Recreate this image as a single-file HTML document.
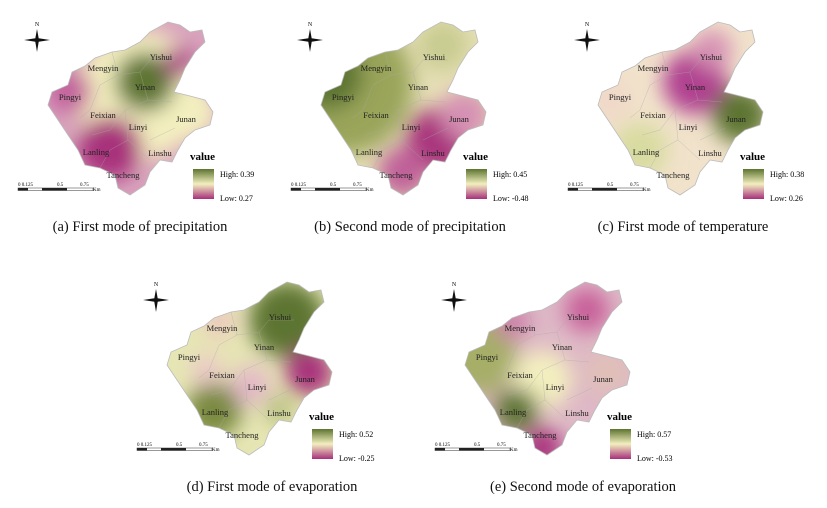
<!DOCTYPE html><html><head><meta charset="utf-8"><style>
body{margin:0;background:#fff;width:827px;height:508px;overflow:hidden}
svg{display:block}
text{font-family:"Liberation Serif",serif}
</style></head><body>
<svg id="s" width="827" height="508" xmlns="http://www.w3.org/2000/svg"></svg>
<script>
const outline="M150,32 L168,22 L180,25 L190,32 L202,30 L205,42 L195,52 L185,68 L180,80 L174,92 L190,96 L205,100 L213,112 L210,125 L195,130 L185,138 L178,150 L172,162 L160,160 L150,172 L145,185 L130,195 L118,188 L115,175 L100,168 L85,165 L78,150 L68,135 L58,120 L48,105 L52,92 L68,85 L72,72 L85,66 L95,58 L112,52 L125,50 L140,42 Z";
const borders="M112,52 L118,75 L100,85 L90,110 L80,118 M118,75 L140,72 L150,60 L175,60 M140,72 L148,100 L172,102 M148,100 L125,110 L110,130 L92,135 M125,110 L128,140 L150,160 M150,140 L175,128 M128,140 L110,150 L100,168";
const labels=[["Yishui",161,57],["Mengyin",103,68],["Yinan",145,87],["Pingyi",70,97],["Feixian",103,115],["Linyi",138,127],["Junan",186,119],["Lanling",96,152],["Linshu",160,153],["Tancheng",123,175]];
const G="#5d7430",G2="#8a9a50",Y="#f3efbf",P="#d690b4",M="#a8307c";
const panels=[
 {x:0,y:0,base:"#d9a3bd",hi:"0.39",lo:"0.27",cap:"(a) First mode of precipitation",cx:140,blobs:[[140,95,65,Y],[190,112,28,Y],[145,82,30,G],[110,148,32,M],[70,92,22,"#c2619c"],[180,62,16,"#b04a8c"]]},
 {x:273,y:0,base:"#e6dfb6",hi:"0.45",lo:"-0.48",cap:"(b) Second mode of precipitation",cx:410,blobs:[[70,85,70,"#9aa55a"],[55,75,35,G],[165,140,32,M],[130,172,25,"#c0609a"],[192,115,25,P],[170,45,25,"#c8cc90"]]},
 {x:550,y:0,base:"#f1e2cb",hi:"0.38",lo:"0.26",cap:"(c) First mode of temperature",cx:683,blobs:[[145,82,32,"#b04090"],[162,50,20,P],[190,115,28,G],[90,150,28,"#d8dca0"],[60,100,22,"#f0d8c8"]]},
 {x:119,y:260,base:"#e6e6b4",hi:"0.52",lo:"-0.25",cap:"(d) First mode of evaporation",cx:272,blobs:[[168,60,38,G],[95,150,28,"#7a8a40"],[190,112,24,M],[132,125,20,"#e4b8c8"],[88,110,16,"#ecc8c8"],[100,62,16,"#ecc8c0"],[160,150,15,"#b8c080"]]},
 {x:417,y:260,base:"#deb8c6",hi:"0.57",lo:"-0.53",cap:"(e) Second mode of evaporation",cx:583,blobs:[[60,95,40,"#a6ae68"],[125,120,30,Y],[100,150,22,G],[125,188,20,M],[170,50,22,"#c8609a"],[95,62,18,"#cc80a8"],[190,112,22,"#e0c0b8"]]}
];
let h='<defs><clipPath id="cp"><path d="'+outline+'"/></clipPath><filter id="bl"><feGaussianBlur stdDeviation="10"/></filter>'+
'<linearGradient id="lg" x1="0" y1="0" x2="0" y2="1"><stop offset="0" stop-color="'+G+'"/><stop offset="0.5" stop-color="'+Y+'"/><stop offset="1" stop-color="'+M+'"/></linearGradient></defs>';
panels.forEach((p,i)=>{
 h+='<g transform="translate('+p.x+','+p.y+')">';
 h+='<g clip-path="url(#cp)"><rect x="0" y="0" width="260" height="220" fill="'+p.base+'"/><g filter="url(#bl)">';
 p.blobs.forEach(b=>{h+='<circle cx="'+b[0]+'" cy="'+b[1]+'" r="'+b[2]+'" fill="'+b[3]+'"/>';});
 h+='</g></g><path d="'+outline+'" fill="none" stroke="#bbb" stroke-width="0.8"/><path d="'+borders+'" fill="none" stroke="#aaa" stroke-width="0.5" opacity="0.6"/>';
 labels.forEach(l=>{h+='<text x="'+l[1]+'" y="'+(l[2]+3)+'" font-size="8.5" text-anchor="middle" fill="#222">'+l[0]+'</text>';});
 // compass
 h+='<text x="37" y="26" font-size="6" text-anchor="middle">N</text><path d="M37,29 L39,40 L37,52 L35,40 Z M24,40 L37,38 L50,40 L37,42 Z" fill="#111"/>';
 // legend
 h+='<text x="190" y="160" font-size="11" font-weight="bold">value</text><rect x="193" y="169" width="21" height="30" fill="url(#lg)"/>';
 h+='<text x="220" y="177" font-size="8">High: '+p.hi+'</text><text x="220" y="201" font-size="8">Low: '+p.lo+'</text>';
 // scale bar
 h+='<text x="18" y="186" font-size="5">0 0.125</text><text x="57" y="186" font-size="5">0.5</text><text x="80" y="186" font-size="5">0.75</text><text x="93" y="191" font-size="5">Km</text>';
 h+='<rect x="18" y="188" width="75" height="2.5" fill="#fff" stroke="#333" stroke-width="0.5"/><rect x="18" y="188" width="10" height="2.5" fill="#222"/><rect x="42" y="188" width="25" height="2.5" fill="#222"/>';
 h+='</g>';
 const cy=i<3?231:491;
 h+='<text x="'+p.cx+'" y="'+cy+'" font-size="14.5" text-anchor="middle" fill="#111">'+p.cap+'</text>';
});
document.getElementById('s').innerHTML=h;
</script>
</body></html>
